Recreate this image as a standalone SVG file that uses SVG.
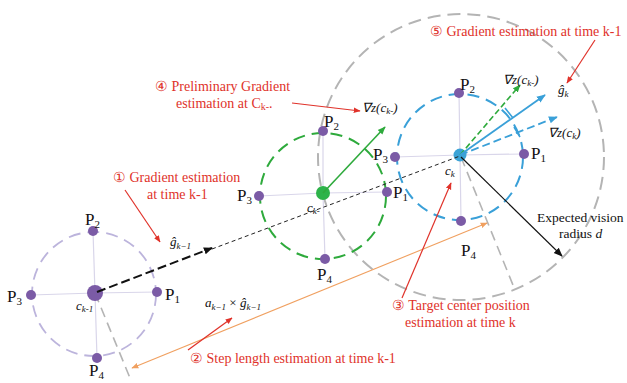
<svg xmlns="http://www.w3.org/2000/svg" width="627" height="383" viewBox="0 0 627 383" font-family="'Liberation Serif', 'Times New Roman', serif">
<style>
text{font-family:'Liberation Serif','Times New Roman',serif;}
.p{font-size:17px;fill:#111;}
.ps{font-size:11px;}
.lab{font-size:14px;fill:#e0322a;}
.math{font-size:13px;fill:#111;font-style:italic;}
.sub{font-size:9px;}
.cross{stroke:#d9d6ea;stroke-width:1.2;fill:none;}
.pd{fill:#7b5ba6;}
.red{stroke:#e0322a;stroke-width:1.2;fill:none;marker-end:url(#ar);}
</style>
<defs>
<marker id="ar" viewBox="0 0 10 10" refX="9" refY="5" markerWidth="7" markerHeight="7" orient="auto" markerUnits="userSpaceOnUse"><path d="M0,1 L10,5 L0,9 Z" fill="#e0322a"/></marker>
<marker id="ab" viewBox="0 0 10 10" refX="9" refY="5" markerWidth="9" markerHeight="9" orient="auto" markerUnits="userSpaceOnUse"><path d="M0,1 L10,5 L0,9 Z" fill="#111"/></marker>
<marker id="ag" viewBox="0 0 10 10" refX="9" refY="5" markerWidth="8" markerHeight="8" orient="auto" markerUnits="userSpaceOnUse"><path d="M0,1 L10,5 L0,9 Z" fill="#2eaa3c"/></marker>
<marker id="au" viewBox="0 0 10 10" refX="9" refY="5" markerWidth="9" markerHeight="9" orient="auto" markerUnits="userSpaceOnUse"><path d="M0,1 L10,5 L0,9 Z" fill="#3aa0d8"/></marker>
<marker id="ao" viewBox="0 0 10 10" refX="9" refY="5" markerWidth="7" markerHeight="7" orient="auto-start-reverse" markerUnits="userSpaceOnUse"><path d="M0,1 L10,5 L0,9 Z" fill="#f0a060"/></marker>
</defs>

<!-- big grey vision circle -->
<g id="vision">
<circle cx="461" cy="157" r="143" fill="none" stroke="#b4b4b4" stroke-width="2" stroke-dasharray="13 7"/>
<line x1="461" y1="157" x2="515" y2="290" stroke="#b4b4b4" stroke-width="1.6" stroke-dasharray="10 6"/>
<line x1="95" y1="293" x2="130" y2="378" stroke="#b4b4b4" stroke-width="1.6" stroke-dasharray="10 6"/>
</g>

<!-- left circle -->
<g id="node-left">
<circle cx="94" cy="294" r="62" fill="none" stroke="#bcb4dc" stroke-width="1.8" stroke-dasharray="12 7"/>
<path class="cross" d="M95,293 L157,292 M95,293 L31,295 M95,293 L93,231 M95,293 L97,358"/>
<circle class="pd" cx="157" cy="292" r="5"/>
<circle class="pd" cx="31" cy="295" r="5"/>
<circle class="pd" cx="93" cy="231" r="5"/>
<circle class="pd" cx="97" cy="358" r="5"/>
<circle class="pd" cx="95" cy="293" r="8"/>
<text class="p" x="165" y="300">P<tspan class="ps" dy="3">1</tspan></text>
<text class="p" x="85" y="225">P<tspan class="ps" dy="3">2</tspan></text>
<text class="p" x="7" y="302">P<tspan class="ps" dy="3">3</tspan></text>
<text class="p" x="89" y="376">P<tspan class="ps" dy="3">4</tspan></text>
<text class="math" x="76" y="310" font-size="10">c<tspan class="sub" font-size="7" dy="2">k-1</tspan></text>
</g>

<!-- middle circle -->
<g id="node-mid">
<circle cx="323" cy="196" r="63" fill="none" stroke="#2eaa3c" stroke-width="2" stroke-dasharray="12 7"/>
<path class="cross" d="M323,193 L387,192 M323,193 L259,196 M323,193 L323,131 M323,193 L325,259"/>
<circle class="pd" cx="387" cy="192" r="5"/>
<circle class="pd" cx="259" cy="196" r="5"/>
<circle class="pd" cx="323" cy="131" r="5"/>
<circle class="pd" cx="325" cy="259" r="5"/>
<circle cx="323" cy="193" r="7" fill="#2db34a"/>
<text class="p" x="393" y="198">P<tspan class="ps" dy="3">1</tspan></text>
<text class="p" x="324" y="127">P<tspan class="ps" dy="3">2</tspan></text>
<text class="p" x="237" y="201">P<tspan class="ps" dy="3">3</tspan></text>
<text class="p" x="317" y="280">P<tspan class="ps" dy="3">4</tspan></text>
<text class="math" x="307" y="212" font-size="11">c<tspan class="sub" dy="2">k-</tspan></text>
</g>

<!-- right circle -->
<g id="node-right">
<circle cx="460" cy="157" r="63" fill="none" stroke="#3aa0d8" stroke-width="2" stroke-dasharray="12 7"/>
<path class="cross" d="M460,155 L524,154 M460,155 L395,157 M460,155 L459,93 M460,155 L461,221"/>
<circle class="pd" cx="524" cy="154" r="5"/>
<circle class="pd" cx="395" cy="157" r="5"/>
<circle class="pd" cx="459" cy="93" r="5"/>
<circle class="pd" cx="461" cy="221" r="5"/>
<circle cx="460" cy="155" r="6.5" fill="#3ba3d6"/>
<text class="p" x="531" y="159">P<tspan class="ps" dy="3">1</tspan></text>
<text class="p" x="460" y="90">P<tspan class="ps" dy="3">2</tspan></text>
<text class="p" x="373" y="160">P<tspan class="ps" dy="3">3</tspan></text>
<text class="p" x="461" y="256">P<tspan class="ps" dy="3">4</tspan></text>
<text class="math" x="445" y="175" font-size="12">c<tspan class="sub" dy="2">k</tspan></text>
</g>

<!-- connectors -->
<g id="connectors">
<line x1="212" y1="249" x2="460" y2="156" stroke="#222" stroke-width="1" stroke-dasharray="4 3"/>
<line x1="97" y1="292" x2="212" y2="248" stroke="#111" stroke-width="2" stroke-dasharray="9 4" marker-end="url(#ab)"/>
<line x1="323" y1="193" x2="385" y2="127" stroke="#2eaa3c" stroke-width="1.6" marker-end="url(#ag)"/>
<line x1="460" y1="155" x2="520" y2="85" stroke="#2eaa3c" stroke-width="1.6" stroke-dasharray="6 3" marker-end="url(#ag)"/>
<line x1="460" y1="155" x2="545" y2="95" stroke="#3aa0d8" stroke-width="1.8" marker-end="url(#au)"/>
<line x1="460" y1="155" x2="557" y2="117" stroke="#3aa0d8" stroke-width="1.8" stroke-dasharray="8 4" marker-end="url(#au)"/>
<path d="M505,108 L513,118 M514,127 L520,137" stroke="#3aa0d8" stroke-width="1.6"/>
<line x1="461" y1="157" x2="562" y2="256" stroke="#111" stroke-width="1.2" marker-end="url(#ab)"/>
<line x1="132" y1="368" x2="487" y2="223" stroke="#f0a060" stroke-width="1.1" marker-start="url(#ao)" marker-end="url(#ao)"/>
<line class="red" x1="125" y1="190" x2="160" y2="242"/>
<line class="red" x1="292" y1="103" x2="360" y2="111"/>
<line class="red" x1="595" y1="40" x2="567" y2="83"/>
<line class="red" x1="188" y1="350" x2="232" y2="318"/>
<line class="red" x1="402" y1="298" x2="451" y2="183"/>
</g>

<!-- labels -->
<g id="labels">
<text class="lab" x="430" y="36">⑤ Gradient estimation at time k-1</text>
<text class="lab" x="155" y="91">④ Preliminary Gradient</text>
<text class="lab" x="176" y="108">estimation at C<tspan font-size="10" dy="2">k-</tspan><tspan dy="-2">.</tspan></text>
<text class="lab" x="113" y="182">① Gradient estimation</text>
<text class="lab" x="147" y="199">at time k-1</text>
<text class="lab" x="190" y="363">② Step length estimation at time k-1</text>
<text class="lab" x="392" y="310">③ Target center position</text>
<text class="lab" x="405" y="327">estimation at time k</text>
<text x="537" y="222" font-size="13.5" fill="#111">Expected vision</text>
<text x="559" y="238" font-size="13.5" fill="#111">radius <tspan font-style="italic">d</tspan></text>
<text class="math" x="170" y="246">ĝ<tspan class="sub" dy="3">k−1</tspan></text>
<text class="math" x="205" y="307">a<tspan class="sub" dy="3">k−1</tspan><tspan dy="-3" font-style="normal"> × </tspan>ĝ<tspan class="sub" dy="3">k−1</tspan></text>
<text class="math" x="362" y="112" font-style="normal">∇<tspan font-style="italic">z</tspan>(<tspan font-style="italic">c</tspan><tspan class="sub" dy="2" font-style="italic">k-</tspan><tspan dy="-2">)</tspan></text>
<text class="math" x="503" y="84" font-style="normal">∇<tspan font-style="italic">z</tspan>(<tspan font-style="italic">c</tspan><tspan class="sub" dy="2" font-style="italic">k-</tspan><tspan dy="-2">)</tspan></text>
<text class="math" x="558" y="94" font-size="14">ĝ<tspan class="sub" dy="3">k</tspan></text>
<text class="math" x="548" y="137" font-style="normal">∇<tspan font-style="italic">z</tspan>(<tspan font-style="italic">c</tspan><tspan class="sub" dy="2" font-style="italic">k</tspan><tspan dy="-2">)</tspan></text>
</g>
</svg>
